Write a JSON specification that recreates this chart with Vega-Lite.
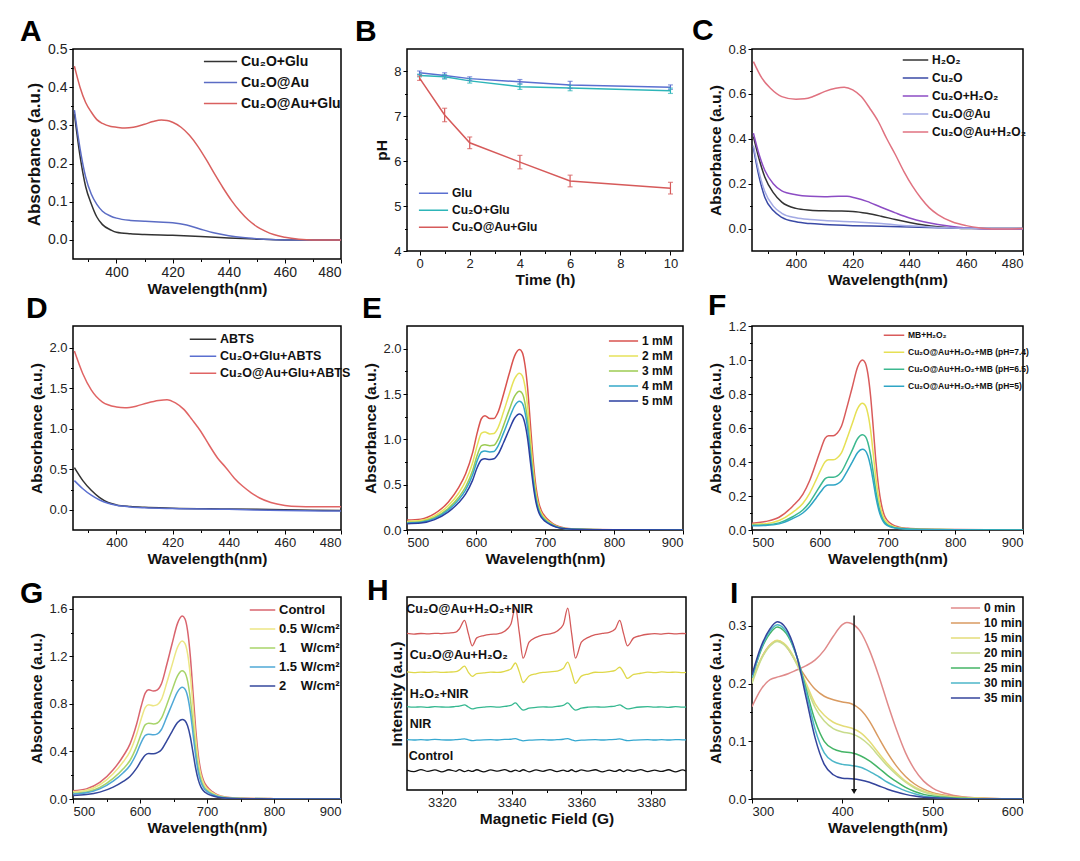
{
"$schema": "https://vega.github.io/schema/vega-lite/v6.json",
"background": "white",
"padding": {"left": 19, "top": 15, "right": 5, "bottom": 5},
"columns": 3,
"bounds": "flush",
"spacing": {"row": 67, "column": 66},
"resolve": {"scale": {"color": "independent"}, "legend": {"color": "independent"}},
"config": {
  "font": "Liberation Sans",
  "view": {"stroke": "#000", "strokeWidth": 1.5},
  "axis": {"grid": false, "domain": false, "tickColor": "#000", "tickSize": 4, "tickWidth": 1, "labelFont": "Liberation Sans", "labelFontSize": 13, "labelColor": "#222", "labelPadding": 2, "titleFont": "Liberation Sans", "titleFontSize": 15.5, "titleFontWeight": "bold", "titleColor": "#111", "titlePadding": 2},
  "axisY": {"titlePadding": 4},
  "legend": {"orient": "none", "symbolType": "stroke", "symbolStrokeWidth": 1.5, "labelFont": "Liberation Sans", "labelFontWeight": "bold", "labelColor": "#111", "padding": 0, "labelOffset": 3, "rowPadding": 0},
  "title": {"anchor": "start", "frame": "group", "fontSize": 30, "fontWeight": "bold", "font": "Liberation Sans", "color": "#000", "offset": -2},
  "line": {"strokeWidth": 1.5}
},
"datasets": {
"A": [
{"k":"Cu₂O+Glu","x":385,"y":0.33},{"k":"Cu₂O+Glu","x":387,"y":0.22},{"k":"Cu₂O+Glu","x":389,"y":0.14},{"k":"Cu₂O+Glu","x":391,"y":0.095},{"k":"Cu₂O+Glu","x":393,"y":0.06},{"k":"Cu₂O+Glu","x":395,"y":0.04},{"k":"Cu₂O+Glu","x":398,"y":0.026},{"k":"Cu₂O+Glu","x":400,"y":0.02},{"k":"Cu₂O+Glu","x":405,"y":0.016},{"k":"Cu₂O+Glu","x":410,"y":0.014},{"k":"Cu₂O+Glu","x":420,"y":0.012},{"k":"Cu₂O+Glu","x":430,"y":0.009},{"k":"Cu₂O+Glu","x":440,"y":0.005},{"k":"Cu₂O+Glu","x":450,"y":0.002},{"k":"Cu₂O+Glu","x":460,"y":0},{"k":"Cu₂O+Glu","x":470,"y":0},{"k":"Cu₂O+Glu","x":480,"y":0},
{"k":"Cu₂O@Au","x":385,"y":0.34},{"k":"Cu₂O@Au","x":387,"y":0.24},{"k":"Cu₂O@Au","x":389,"y":0.165},{"k":"Cu₂O@Au","x":391,"y":0.12},{"k":"Cu₂O@Au","x":393,"y":0.093},{"k":"Cu₂O@Au","x":395,"y":0.075},{"k":"Cu₂O@Au","x":398,"y":0.062},{"k":"Cu₂O@Au","x":400,"y":0.057},{"k":"Cu₂O@Au","x":405,"y":0.051},{"k":"Cu₂O@Au","x":410,"y":0.049},{"k":"Cu₂O@Au","x":415,"y":0.047},{"k":"Cu₂O@Au","x":420,"y":0.045},{"k":"Cu₂O@Au","x":425,"y":0.039},{"k":"Cu₂O@Au","x":430,"y":0.028},{"k":"Cu₂O@Au","x":435,"y":0.018},{"k":"Cu₂O@Au","x":440,"y":0.011},{"k":"Cu₂O@Au","x":445,"y":0.006},{"k":"Cu₂O@Au","x":450,"y":0.003},{"k":"Cu₂O@Au","x":455,"y":0.001},{"k":"Cu₂O@Au","x":460,"y":0},{"k":"Cu₂O@Au","x":470,"y":0},{"k":"Cu₂O@Au","x":480,"y":0},
{"k":"Cu₂O@Au+Glu","x":385,"y":0.455},{"k":"Cu₂O@Au+Glu","x":387,"y":0.40},{"k":"Cu₂O@Au+Glu","x":389,"y":0.36},{"k":"Cu₂O@Au+Glu","x":391,"y":0.335},{"k":"Cu₂O@Au+Glu","x":393,"y":0.315},{"k":"Cu₂O@Au+Glu","x":395,"y":0.305},{"k":"Cu₂O@Au+Glu","x":398,"y":0.297},{"k":"Cu₂O@Au+Glu","x":400,"y":0.295},{"k":"Cu₂O@Au+Glu","x":403,"y":0.293},{"k":"Cu₂O@Au+Glu","x":406,"y":0.295},{"k":"Cu₂O@Au+Glu","x":410,"y":0.303},{"k":"Cu₂O@Au+Glu","x":413,"y":0.31},{"k":"Cu₂O@Au+Glu","x":416,"y":0.314},{"k":"Cu₂O@Au+Glu","x":418,"y":0.313},{"k":"Cu₂O@Au+Glu","x":420,"y":0.308},{"k":"Cu₂O@Au+Glu","x":423,"y":0.295},{"k":"Cu₂O@Au+Glu","x":426,"y":0.274},{"k":"Cu₂O@Au+Glu","x":429,"y":0.245},{"k":"Cu₂O@Au+Glu","x":432,"y":0.21},{"k":"Cu₂O@Au+Glu","x":435,"y":0.172},{"k":"Cu₂O@Au+Glu","x":438,"y":0.136},{"k":"Cu₂O@Au+Glu","x":441,"y":0.103},{"k":"Cu₂O@Au+Glu","x":444,"y":0.075},{"k":"Cu₂O@Au+Glu","x":447,"y":0.052},{"k":"Cu₂O@Au+Glu","x":450,"y":0.035},{"k":"Cu₂O@Au+Glu","x":453,"y":0.023},{"k":"Cu₂O@Au+Glu","x":456,"y":0.014},{"k":"Cu₂O@Au+Glu","x":460,"y":0.007},{"k":"Cu₂O@Au+Glu","x":465,"y":0.002},{"k":"Cu₂O@Au+Glu","x":470,"y":0},{"k":"Cu₂O@Au+Glu","x":480,"y":0}
],
"B": [
{"k":"Glu","t":0,"ph":7.97,"lo":7.93,"hi":8.01},{"k":"Glu","t":1,"ph":7.91,"lo":7.85,"hi":7.97},{"k":"Glu","t":2,"ph":7.84,"lo":7.8,"hi":7.88},{"k":"Glu","t":4,"ph":7.77,"lo":7.72,"hi":7.82},{"k":"Glu","t":6,"ph":7.7,"lo":7.62,"hi":7.78},{"k":"Glu","t":10,"ph":7.65,"lo":7.6,"hi":7.7},
{"k":"Cu₂O+Glu","t":0,"ph":7.91,"lo":7.88,"hi":7.94},{"k":"Cu₂O+Glu","t":1,"ph":7.88,"lo":7.83,"hi":7.93},{"k":"Cu₂O+Glu","t":2,"ph":7.79,"lo":7.74,"hi":7.84},{"k":"Cu₂O+Glu","t":4,"ph":7.66,"lo":7.6,"hi":7.72},{"k":"Cu₂O+Glu","t":6,"ph":7.63,"lo":7.57,"hi":7.69},{"k":"Cu₂O+Glu","t":10,"ph":7.57,"lo":7.51,"hi":7.63},
{"k":"Cu₂O@Au+Glu","t":0,"ph":7.85,"lo":7.8,"hi":7.9},{"k":"Cu₂O@Au+Glu","t":1,"ph":7.03,"lo":6.88,"hi":7.18},{"k":"Cu₂O@Au+Glu","t":2,"ph":6.41,"lo":6.28,"hi":6.54},{"k":"Cu₂O@Au+Glu","t":4,"ph":5.98,"lo":5.83,"hi":6.13},{"k":"Cu₂O@Au+Glu","t":6,"ph":5.56,"lo":5.43,"hi":5.69},{"k":"Cu₂O@Au+Glu","t":10,"ph":5.4,"lo":5.27,"hi":5.53}
],
"C": [
{"k":"H₂O₂","x":385,"y":0.41},{"k":"H₂O₂","x":387,"y":0.31},{"k":"H₂O₂","x":389,"y":0.23},{"k":"H₂O₂","x":392,"y":0.16},{"k":"H₂O₂","x":395,"y":0.118},{"k":"H₂O₂","x":400,"y":0.09},{"k":"H₂O₂","x":405,"y":0.082},{"k":"H₂O₂","x":410,"y":0.079},{"k":"H₂O₂","x":415,"y":0.078},{"k":"H₂O₂","x":420,"y":0.076},{"k":"H₂O₂","x":425,"y":0.068},{"k":"H₂O₂","x":430,"y":0.055},{"k":"H₂O₂","x":435,"y":0.04},{"k":"H₂O₂","x":440,"y":0.027},{"k":"H₂O₂","x":445,"y":0.016},{"k":"H₂O₂","x":450,"y":0.008},{"k":"H₂O₂","x":455,"y":0.003},{"k":"H₂O₂","x":460,"y":0},{"k":"H₂O₂","x":470,"y":0},{"k":"H₂O₂","x":480,"y":0},
{"k":"Cu₂O","x":385,"y":0.36},{"k":"Cu₂O","x":387,"y":0.23},{"k":"Cu₂O","x":389,"y":0.14},{"k":"Cu₂O","x":392,"y":0.08},{"k":"Cu₂O","x":395,"y":0.05},{"k":"Cu₂O","x":400,"y":0.03},{"k":"Cu₂O","x":405,"y":0.022},{"k":"Cu₂O","x":410,"y":0.018},{"k":"Cu₂O","x":420,"y":0.013},{"k":"Cu₂O","x":430,"y":0.01},{"k":"Cu₂O","x":440,"y":0.007},{"k":"Cu₂O","x":450,"y":0.004},{"k":"Cu₂O","x":460,"y":0.002},{"k":"Cu₂O","x":470,"y":0},{"k":"Cu₂O","x":480,"y":0},
{"k":"Cu₂O+H₂O₂","x":385,"y":0.425},{"k":"Cu₂O+H₂O₂","x":387,"y":0.33},{"k":"Cu₂O+H₂O₂","x":389,"y":0.26},{"k":"Cu₂O+H₂O₂","x":392,"y":0.2},{"k":"Cu₂O+H₂O₂","x":395,"y":0.168},{"k":"Cu₂O+H₂O₂","x":400,"y":0.151},{"k":"Cu₂O+H₂O₂","x":405,"y":0.144},{"k":"Cu₂O+H₂O₂","x":410,"y":0.142},{"k":"Cu₂O+H₂O₂","x":415,"y":0.144},{"k":"Cu₂O+H₂O₂","x":418,"y":0.144},{"k":"Cu₂O+H₂O₂","x":421,"y":0.136},{"k":"Cu₂O+H₂O₂","x":425,"y":0.121},{"k":"Cu₂O+H₂O₂","x":430,"y":0.095},{"k":"Cu₂O+H₂O₂","x":435,"y":0.07},{"k":"Cu₂O+H₂O₂","x":440,"y":0.047},{"k":"Cu₂O+H₂O₂","x":445,"y":0.03},{"k":"Cu₂O+H₂O₂","x":450,"y":0.018},{"k":"Cu₂O+H₂O₂","x":455,"y":0.009},{"k":"Cu₂O+H₂O₂","x":460,"y":0.003},{"k":"Cu₂O+H₂O₂","x":470,"y":-0.002},{"k":"Cu₂O+H₂O₂","x":480,"y":-0.002},
{"k":"Cu₂O@Au","x":385,"y":0.37},{"k":"Cu₂O@Au","x":387,"y":0.25},{"k":"Cu₂O@Au","x":389,"y":0.165},{"k":"Cu₂O@Au","x":392,"y":0.1},{"k":"Cu₂O@Au","x":395,"y":0.068},{"k":"Cu₂O@Au","x":400,"y":0.048},{"k":"Cu₂O@Au","x":405,"y":0.04},{"k":"Cu₂O@Au","x":410,"y":0.036},{"k":"Cu₂O@Au","x":420,"y":0.03},{"k":"Cu₂O@Au","x":430,"y":0.022},{"k":"Cu₂O@Au","x":440,"y":0.012},{"k":"Cu₂O@Au","x":450,"y":0.005},{"k":"Cu₂O@Au","x":460,"y":0.001},{"k":"Cu₂O@Au","x":470,"y":0},{"k":"Cu₂O@Au","x":480,"y":0},
{"k":"Cu₂O@Au+H₂O₂","x":385,"y":0.744},{"k":"Cu₂O@Au+H₂O₂","x":388,"y":0.67},{"k":"Cu₂O@Au+H₂O₂","x":391,"y":0.625},{"k":"Cu₂O@Au+H₂O₂","x":395,"y":0.588},{"k":"Cu₂O@Au+H₂O₂","x":400,"y":0.576},{"k":"Cu₂O@Au+H₂O₂","x":403,"y":0.578},{"k":"Cu₂O@Au+H₂O₂","x":406,"y":0.588},{"k":"Cu₂O@Au+H₂O₂","x":410,"y":0.61},{"k":"Cu₂O@Au+H₂O₂","x":414,"y":0.625},{"k":"Cu₂O@Au+H₂O₂","x":417,"y":0.63},{"k":"Cu₂O@Au+H₂O₂","x":420,"y":0.618},{"k":"Cu₂O@Au+H₂O₂","x":423,"y":0.588},{"k":"Cu₂O@Au+H₂O₂","x":426,"y":0.536},{"k":"Cu₂O@Au+H₂O₂","x":429,"y":0.477},{"k":"Cu₂O@Au+H₂O₂","x":432,"y":0.4},{"k":"Cu₂O@Au+H₂O₂","x":435,"y":0.33},{"k":"Cu₂O@Au+H₂O₂","x":438,"y":0.255},{"k":"Cu₂O@Au+H₂O₂","x":441,"y":0.19},{"k":"Cu₂O@Au+H₂O₂","x":444,"y":0.136},{"k":"Cu₂O@Au+H₂O₂","x":447,"y":0.092},{"k":"Cu₂O@Au+H₂O₂","x":450,"y":0.062},{"k":"Cu₂O@Au+H₂O₂","x":455,"y":0.03},{"k":"Cu₂O@Au+H₂O₂","x":460,"y":0.013},{"k":"Cu₂O@Au+H₂O₂","x":465,"y":0.003},{"k":"Cu₂O@Au+H₂O₂","x":470,"y":-0.002},{"k":"Cu₂O@Au+H₂O₂","x":480,"y":0}
],
"D": [
{"k":"ABTS","x":385,"y":0.52},{"k":"ABTS","x":388,"y":0.36},{"k":"ABTS","x":391,"y":0.24},{"k":"ABTS","x":394,"y":0.15},{"k":"ABTS","x":397,"y":0.09},{"k":"ABTS","x":400,"y":0.06},{"k":"ABTS","x":405,"y":0.04},{"k":"ABTS","x":410,"y":0.03},{"k":"ABTS","x":420,"y":0.02},{"k":"ABTS","x":440,"y":0.01},{"k":"ABTS","x":460,"y":0},{"k":"ABTS","x":480,"y":-0.01},
{"k":"Cu₂O+Glu+ABTS","x":385,"y":0.36},{"k":"Cu₂O+Glu+ABTS","x":388,"y":0.26},{"k":"Cu₂O+Glu+ABTS","x":391,"y":0.18},{"k":"Cu₂O+Glu+ABTS","x":394,"y":0.12},{"k":"Cu₂O+Glu+ABTS","x":397,"y":0.08},{"k":"Cu₂O+Glu+ABTS","x":400,"y":0.055},{"k":"Cu₂O+Glu+ABTS","x":405,"y":0.035},{"k":"Cu₂O+Glu+ABTS","x":410,"y":0.025},{"k":"Cu₂O+Glu+ABTS","x":420,"y":0.015},{"k":"Cu₂O+Glu+ABTS","x":440,"y":0.005},{"k":"Cu₂O+Glu+ABTS","x":460,"y":-0.01},{"k":"Cu₂O+Glu+ABTS","x":480,"y":-0.015},
{"k":"Cu₂O@Au+Glu+ABTS","x":385,"y":1.96},{"k":"Cu₂O@Au+Glu+ABTS","x":388,"y":1.68},{"k":"Cu₂O@Au+Glu+ABTS","x":391,"y":1.48},{"k":"Cu₂O@Au+Glu+ABTS","x":395,"y":1.33},{"k":"Cu₂O@Au+Glu+ABTS","x":400,"y":1.27},{"k":"Cu₂O@Au+Glu+ABTS","x":403,"y":1.26},{"k":"Cu₂O@Au+Glu+ABTS","x":407,"y":1.28},{"k":"Cu₂O@Au+Glu+ABTS","x":411,"y":1.32},{"k":"Cu₂O@Au+Glu+ABTS","x":415,"y":1.35},{"k":"Cu₂O@Au+Glu+ABTS","x":418,"y":1.36},{"k":"Cu₂O@Au+Glu+ABTS","x":421,"y":1.32},{"k":"Cu₂O@Au+Glu+ABTS","x":424,"y":1.24},{"k":"Cu₂O@Au+Glu+ABTS","x":427,"y":1.11},{"k":"Cu₂O@Au+Glu+ABTS","x":430,"y":0.97},{"k":"Cu₂O@Au+Glu+ABTS","x":433,"y":0.8},{"k":"Cu₂O@Au+Glu+ABTS","x":436,"y":0.64},{"k":"Cu₂O@Au+Glu+ABTS","x":439,"y":0.52},{"k":"Cu₂O@Au+Glu+ABTS","x":442,"y":0.39},{"k":"Cu₂O@Au+Glu+ABTS","x":445,"y":0.29},{"k":"Cu₂O@Au+Glu+ABTS","x":448,"y":0.21},{"k":"Cu₂O@Au+Glu+ABTS","x":451,"y":0.145},{"k":"Cu₂O@Au+Glu+ABTS","x":455,"y":0.09},{"k":"Cu₂O@Au+Glu+ABTS","x":460,"y":0.054},{"k":"Cu₂O@Au+Glu+ABTS","x":465,"y":0.04},{"k":"Cu₂O@Au+Glu+ABTS","x":470,"y":0.037},{"k":"Cu₂O@Au+Glu+ABTS","x":480,"y":0.037}
],
"E": [
{"k":"1 mM","x":500,"y":0.11},{"k":"1 mM","x":520,"y":0.12},{"k":"1 mM","x":540,"y":0.18},{"k":"1 mM","x":560,"y":0.31},{"k":"1 mM","x":575,"y":0.47},{"k":"1 mM","x":585,"y":0.62},{"k":"1 mM","x":595,"y":0.85},{"k":"1 mM","x":602,"y":1.08},{"k":"1 mM","x":608,"y":1.23},{"k":"1 mM","x":613,"y":1.26},{"k":"1 mM","x":620,"y":1.23},{"k":"1 mM","x":626,"y":1.23},{"k":"1 mM","x":632,"y":1.3},{"k":"1 mM","x":640,"y":1.5},{"k":"1 mM","x":648,"y":1.72},{"k":"1 mM","x":656,"y":1.92},{"k":"1 mM","x":663,"y":1.99},{"k":"1 mM","x":667,"y":1.96},{"k":"1 mM","x":671,"y":1.82},{"k":"1 mM","x":675,"y":1.55},{"k":"1 mM","x":679,"y":1.15},{"k":"1 mM","x":683,"y":0.76},{"k":"1 mM","x":687,"y":0.47},{"k":"1 mM","x":691,"y":0.3},{"k":"1 mM","x":695,"y":0.21},{"k":"1 mM","x":700,"y":0.15},{"k":"1 mM","x":708,"y":0.09},{"k":"1 mM","x":716,"y":0.05},{"k":"1 mM","x":730,"y":0.02},{"k":"1 mM","x":750,"y":0.01},{"k":"1 mM","x":800,"y":0.003},{"k":"1 mM","x":900,"y":0},
{"k":"2 mM","x":500,"y":0.095},{"k":"2 mM","x":520,"y":0.104},{"k":"2 mM","x":540,"y":0.156},{"k":"2 mM","x":560,"y":0.27},{"k":"2 mM","x":575,"y":0.408},{"k":"2 mM","x":585,"y":0.54},{"k":"2 mM","x":595,"y":0.739},{"k":"2 mM","x":602,"y":0.939},{"k":"2 mM","x":608,"y":1.069},{"k":"2 mM","x":613,"y":1.08},{"k":"2 mM","x":620,"y":1.06},{"k":"2 mM","x":626,"y":1.065},{"k":"2 mM","x":632,"y":1.13},{"k":"2 mM","x":640,"y":1.304},{"k":"2 mM","x":648,"y":1.495},{"k":"2 mM","x":656,"y":1.669},{"k":"2 mM","x":663,"y":1.73},{"k":"2 mM","x":667,"y":1.704},{"k":"2 mM","x":671,"y":1.583},{"k":"2 mM","x":675,"y":1.348},{"k":"2 mM","x":679,"y":1.0},{"k":"2 mM","x":683,"y":0.661},{"k":"2 mM","x":687,"y":0.408},{"k":"2 mM","x":691,"y":0.261},{"k":"2 mM","x":695,"y":0.183},{"k":"2 mM","x":700,"y":0.13},{"k":"2 mM","x":708,"y":0.078},{"k":"2 mM","x":716,"y":0.043},{"k":"2 mM","x":730,"y":0.017},{"k":"2 mM","x":750,"y":0.009},{"k":"2 mM","x":800,"y":0.003},{"k":"2 mM","x":900,"y":0},
{"k":"3 mM","x":500,"y":0.084},{"k":"3 mM","x":520,"y":0.092},{"k":"3 mM","x":540,"y":0.138},{"k":"3 mM","x":560,"y":0.239},{"k":"3 mM","x":575,"y":0.361},{"k":"3 mM","x":585,"y":0.477},{"k":"3 mM","x":595,"y":0.653},{"k":"3 mM","x":602,"y":0.831},{"k":"3 mM","x":608,"y":0.93},{"k":"3 mM","x":613,"y":0.94},{"k":"3 mM","x":620,"y":0.93},{"k":"3 mM","x":626,"y":0.935},{"k":"3 mM","x":632,"y":0.999},{"k":"3 mM","x":640,"y":1.154},{"k":"3 mM","x":648,"y":1.322},{"k":"3 mM","x":656,"y":1.476},{"k":"3 mM","x":663,"y":1.53},{"k":"3 mM","x":667,"y":1.507},{"k":"3 mM","x":671,"y":1.4},{"k":"3 mM","x":675,"y":1.192},{"k":"3 mM","x":679,"y":0.884},{"k":"3 mM","x":683,"y":0.584},{"k":"3 mM","x":687,"y":0.361},{"k":"3 mM","x":691,"y":0.231},{"k":"3 mM","x":695,"y":0.162},{"k":"3 mM","x":700,"y":0.115},{"k":"3 mM","x":708,"y":0.069},{"k":"3 mM","x":716,"y":0.038},{"k":"3 mM","x":730,"y":0.015},{"k":"3 mM","x":750,"y":0.008},{"k":"3 mM","x":800,"y":0.002},{"k":"3 mM","x":900,"y":0},
{"k":"4 mM","x":500,"y":0.078},{"k":"4 mM","x":520,"y":0.085},{"k":"4 mM","x":540,"y":0.128},{"k":"4 mM","x":560,"y":0.222},{"k":"4 mM","x":575,"y":0.335},{"k":"4 mM","x":585,"y":0.443},{"k":"4 mM","x":595,"y":0.606},{"k":"4 mM","x":602,"y":0.771},{"k":"4 mM","x":608,"y":0.86},{"k":"4 mM","x":613,"y":0.87},{"k":"4 mM","x":620,"y":0.86},{"k":"4 mM","x":626,"y":0.865},{"k":"4 mM","x":632,"y":0.927},{"k":"4 mM","x":640,"y":1.071},{"k":"4 mM","x":648,"y":1.227},{"k":"4 mM","x":656,"y":1.37},{"k":"4 mM","x":663,"y":1.42},{"k":"4 mM","x":667,"y":1.399},{"k":"4 mM","x":671,"y":1.299},{"k":"4 mM","x":675,"y":1.106},{"k":"4 mM","x":679,"y":0.821},{"k":"4 mM","x":683,"y":0.542},{"k":"4 mM","x":687,"y":0.335},{"k":"4 mM","x":691,"y":0.214},{"k":"4 mM","x":695,"y":0.151},{"k":"4 mM","x":700,"y":0.107},{"k":"4 mM","x":708,"y":0.064},{"k":"4 mM","x":716,"y":0.036},{"k":"4 mM","x":730,"y":0.014},{"k":"4 mM","x":750,"y":0.007},{"k":"4 mM","x":800,"y":0.002},{"k":"4 mM","x":900,"y":0},
{"k":"5 mM","x":500,"y":0.07},{"k":"5 mM","x":520,"y":0.077},{"k":"5 mM","x":540,"y":0.115},{"k":"5 mM","x":560,"y":0.2},{"k":"5 mM","x":575,"y":0.302},{"k":"5 mM","x":585,"y":0.399},{"k":"5 mM","x":595,"y":0.547},{"k":"5 mM","x":602,"y":0.695},{"k":"5 mM","x":608,"y":0.775},{"k":"5 mM","x":613,"y":0.785},{"k":"5 mM","x":620,"y":0.778},{"k":"5 mM","x":626,"y":0.785},{"k":"5 mM","x":632,"y":0.836},{"k":"5 mM","x":640,"y":0.965},{"k":"5 mM","x":648,"y":1.106},{"k":"5 mM","x":656,"y":1.235},{"k":"5 mM","x":663,"y":1.28},{"k":"5 mM","x":667,"y":1.261},{"k":"5 mM","x":671,"y":1.171},{"k":"5 mM","x":675,"y":0.997},{"k":"5 mM","x":679,"y":0.74},{"k":"5 mM","x":683,"y":0.489},{"k":"5 mM","x":687,"y":0.302},{"k":"5 mM","x":691,"y":0.193},{"k":"5 mM","x":695,"y":0.136},{"k":"5 mM","x":700,"y":0.096},{"k":"5 mM","x":708,"y":0.058},{"k":"5 mM","x":716,"y":0.032},{"k":"5 mM","x":730,"y":0.013},{"k":"5 mM","x":750,"y":0.006},{"k":"5 mM","x":800,"y":0.002},{"k":"5 mM","x":900,"y":0}
],
"F": [
{"k":"MB+H₂O₂","x":500,"y":0.04},{"k":"MB+H₂O₂","x":520,"y":0.05},{"k":"MB+H₂O₂","x":540,"y":0.075},{"k":"MB+H₂O₂","x":560,"y":0.14},{"k":"MB+H₂O₂","x":575,"y":0.21},{"k":"MB+H₂O₂","x":585,"y":0.29},{"k":"MB+H₂O₂","x":595,"y":0.4},{"k":"MB+H₂O₂","x":602,"y":0.48},{"k":"MB+H₂O₂","x":608,"y":0.54},{"k":"MB+H₂O₂","x":613,"y":0.555},{"k":"MB+H₂O₂","x":620,"y":0.555},{"k":"MB+H₂O₂","x":626,"y":0.57},{"k":"MB+H₂O₂","x":632,"y":0.61},{"k":"MB+H₂O₂","x":640,"y":0.72},{"k":"MB+H₂O₂","x":648,"y":0.84},{"k":"MB+H₂O₂","x":656,"y":0.96},{"k":"MB+H₂O₂","x":663,"y":1.0},{"k":"MB+H₂O₂","x":667,"y":0.985},{"k":"MB+H₂O₂","x":671,"y":0.92},{"k":"MB+H₂O₂","x":675,"y":0.79},{"k":"MB+H₂O₂","x":679,"y":0.6},{"k":"MB+H₂O₂","x":683,"y":0.4},{"k":"MB+H₂O₂","x":687,"y":0.25},{"k":"MB+H₂O₂","x":691,"y":0.15},{"k":"MB+H₂O₂","x":695,"y":0.09},{"k":"MB+H₂O₂","x":700,"y":0.055},{"k":"MB+H₂O₂","x":708,"y":0.03},{"k":"MB+H₂O₂","x":716,"y":0.018},{"k":"MB+H₂O₂","x":730,"y":0.01},{"k":"MB+H₂O₂","x":750,"y":0.006},{"k":"MB+H₂O₂","x":800,"y":0.003},{"k":"MB+H₂O₂","x":900,"y":0},
{"k":"Cu₂O@Au+H₂O₂+MB (pH=7.4)","x":500,"y":0.033},{"k":"Cu₂O@Au+H₂O₂+MB (pH=7.4)","x":520,"y":0.037},{"k":"Cu₂O@Au+H₂O₂+MB (pH=7.4)","x":540,"y":0.056},{"k":"Cu₂O@Au+H₂O₂+MB (pH=7.4)","x":560,"y":0.104},{"k":"Cu₂O@Au+H₂O₂+MB (pH=7.4)","x":575,"y":0.156},{"k":"Cu₂O@Au+H₂O₂+MB (pH=7.4)","x":585,"y":0.216},{"k":"Cu₂O@Au+H₂O₂+MB (pH=7.4)","x":595,"y":0.298},{"k":"Cu₂O@Au+H₂O₂+MB (pH=7.4)","x":602,"y":0.358},{"k":"Cu₂O@Au+H₂O₂+MB (pH=7.4)","x":608,"y":0.402},{"k":"Cu₂O@Au+H₂O₂+MB (pH=7.4)","x":613,"y":0.413},{"k":"Cu₂O@Au+H₂O₂+MB (pH=7.4)","x":620,"y":0.413},{"k":"Cu₂O@Au+H₂O₂+MB (pH=7.4)","x":626,"y":0.425},{"k":"Cu₂O@Au+H₂O₂+MB (pH=7.4)","x":632,"y":0.454},{"k":"Cu₂O@Au+H₂O₂+MB (pH=7.4)","x":640,"y":0.536},{"k":"Cu₂O@Au+H₂O₂+MB (pH=7.4)","x":648,"y":0.626},{"k":"Cu₂O@Au+H₂O₂+MB (pH=7.4)","x":656,"y":0.715},{"k":"Cu₂O@Au+H₂O₂+MB (pH=7.4)","x":663,"y":0.745},{"k":"Cu₂O@Au+H₂O₂+MB (pH=7.4)","x":667,"y":0.734},{"k":"Cu₂O@Au+H₂O₂+MB (pH=7.4)","x":671,"y":0.685},{"k":"Cu₂O@Au+H₂O₂+MB (pH=7.4)","x":675,"y":0.589},{"k":"Cu₂O@Au+H₂O₂+MB (pH=7.4)","x":679,"y":0.447},{"k":"Cu₂O@Au+H₂O₂+MB (pH=7.4)","x":683,"y":0.298},{"k":"Cu₂O@Au+H₂O₂+MB (pH=7.4)","x":687,"y":0.186},{"k":"Cu₂O@Au+H₂O₂+MB (pH=7.4)","x":691,"y":0.112},{"k":"Cu₂O@Au+H₂O₂+MB (pH=7.4)","x":695,"y":0.067},{"k":"Cu₂O@Au+H₂O₂+MB (pH=7.4)","x":700,"y":0.041},{"k":"Cu₂O@Au+H₂O₂+MB (pH=7.4)","x":708,"y":0.022},{"k":"Cu₂O@Au+H₂O₂+MB (pH=7.4)","x":716,"y":0.013},{"k":"Cu₂O@Au+H₂O₂+MB (pH=7.4)","x":730,"y":0.007},{"k":"Cu₂O@Au+H₂O₂+MB (pH=7.4)","x":750,"y":0.004},{"k":"Cu₂O@Au+H₂O₂+MB (pH=7.4)","x":800,"y":0.002},{"k":"Cu₂O@Au+H₂O₂+MB (pH=7.4)","x":900,"y":0},
{"k":"Cu₂O@Au+H₂O₂+MB (pH=6.5)","x":500,"y":0.028},{"k":"Cu₂O@Au+H₂O₂+MB (pH=6.5)","x":520,"y":0.03},{"k":"Cu₂O@Au+H₂O₂+MB (pH=6.5)","x":540,"y":0.042},{"k":"Cu₂O@Au+H₂O₂+MB (pH=6.5)","x":560,"y":0.078},{"k":"Cu₂O@Au+H₂O₂+MB (pH=6.5)","x":575,"y":0.118},{"k":"Cu₂O@Au+H₂O₂+MB (pH=6.5)","x":585,"y":0.162},{"k":"Cu₂O@Au+H₂O₂+MB (pH=6.5)","x":595,"y":0.224},{"k":"Cu₂O@Au+H₂O₂+MB (pH=6.5)","x":602,"y":0.269},{"k":"Cu₂O@Au+H₂O₂+MB (pH=6.5)","x":608,"y":0.302},{"k":"Cu₂O@Au+H₂O₂+MB (pH=6.5)","x":613,"y":0.311},{"k":"Cu₂O@Au+H₂O₂+MB (pH=6.5)","x":620,"y":0.311},{"k":"Cu₂O@Au+H₂O₂+MB (pH=6.5)","x":626,"y":0.319},{"k":"Cu₂O@Au+H₂O₂+MB (pH=6.5)","x":632,"y":0.342},{"k":"Cu₂O@Au+H₂O₂+MB (pH=6.5)","x":640,"y":0.403},{"k":"Cu₂O@Au+H₂O₂+MB (pH=6.5)","x":648,"y":0.47},{"k":"Cu₂O@Au+H₂O₂+MB (pH=6.5)","x":656,"y":0.538},{"k":"Cu₂O@Au+H₂O₂+MB (pH=6.5)","x":663,"y":0.56},{"k":"Cu₂O@Au+H₂O₂+MB (pH=6.5)","x":667,"y":0.552},{"k":"Cu₂O@Au+H₂O₂+MB (pH=6.5)","x":671,"y":0.515},{"k":"Cu₂O@Au+H₂O₂+MB (pH=6.5)","x":675,"y":0.442},{"k":"Cu₂O@Au+H₂O₂+MB (pH=6.5)","x":679,"y":0.336},{"k":"Cu₂O@Au+H₂O₂+MB (pH=6.5)","x":683,"y":0.224},{"k":"Cu₂O@Au+H₂O₂+MB (pH=6.5)","x":687,"y":0.14},{"k":"Cu₂O@Au+H₂O₂+MB (pH=6.5)","x":691,"y":0.084},{"k":"Cu₂O@Au+H₂O₂+MB (pH=6.5)","x":695,"y":0.05},{"k":"Cu₂O@Au+H₂O₂+MB (pH=6.5)","x":700,"y":0.031},{"k":"Cu₂O@Au+H₂O₂+MB (pH=6.5)","x":708,"y":0.017},{"k":"Cu₂O@Au+H₂O₂+MB (pH=6.5)","x":716,"y":0.01},{"k":"Cu₂O@Au+H₂O₂+MB (pH=6.5)","x":730,"y":0.006},{"k":"Cu₂O@Au+H₂O₂+MB (pH=6.5)","x":750,"y":0.003},{"k":"Cu₂O@Au+H₂O₂+MB (pH=6.5)","x":800,"y":0.002},{"k":"Cu₂O@Au+H₂O₂+MB (pH=6.5)","x":900,"y":0},
{"k":"Cu₂O@Au+H₂O₂+MB (pH=5)","x":500,"y":0.025},{"k":"Cu₂O@Au+H₂O₂+MB (pH=5)","x":520,"y":0.027},{"k":"Cu₂O@Au+H₂O₂+MB (pH=5)","x":540,"y":0.036},{"k":"Cu₂O@Au+H₂O₂+MB (pH=5)","x":560,"y":0.067},{"k":"Cu₂O@Au+H₂O₂+MB (pH=5)","x":575,"y":0.1},{"k":"Cu₂O@Au+H₂O₂+MB (pH=5)","x":585,"y":0.138},{"k":"Cu₂O@Au+H₂O₂+MB (pH=5)","x":595,"y":0.19},{"k":"Cu₂O@Au+H₂O₂+MB (pH=5)","x":602,"y":0.228},{"k":"Cu₂O@Au+H₂O₂+MB (pH=5)","x":608,"y":0.257},{"k":"Cu₂O@Au+H₂O₂+MB (pH=5)","x":613,"y":0.264},{"k":"Cu₂O@Au+H₂O₂+MB (pH=5)","x":620,"y":0.264},{"k":"Cu₂O@Au+H₂O₂+MB (pH=5)","x":626,"y":0.271},{"k":"Cu₂O@Au+H₂O₂+MB (pH=5)","x":632,"y":0.29},{"k":"Cu₂O@Au+H₂O₂+MB (pH=5)","x":640,"y":0.342},{"k":"Cu₂O@Au+H₂O₂+MB (pH=5)","x":648,"y":0.399},{"k":"Cu₂O@Au+H₂O₂+MB (pH=5)","x":656,"y":0.456},{"k":"Cu₂O@Au+H₂O₂+MB (pH=5)","x":663,"y":0.475},{"k":"Cu₂O@Au+H₂O₂+MB (pH=5)","x":667,"y":0.468},{"k":"Cu₂O@Au+H₂O₂+MB (pH=5)","x":671,"y":0.437},{"k":"Cu₂O@Au+H₂O₂+MB (pH=5)","x":675,"y":0.375},{"k":"Cu₂O@Au+H₂O₂+MB (pH=5)","x":679,"y":0.285},{"k":"Cu₂O@Au+H₂O₂+MB (pH=5)","x":683,"y":0.19},{"k":"Cu₂O@Au+H₂O₂+MB (pH=5)","x":687,"y":0.119},{"k":"Cu₂O@Au+H₂O₂+MB (pH=5)","x":691,"y":0.071},{"k":"Cu₂O@Au+H₂O₂+MB (pH=5)","x":695,"y":0.043},{"k":"Cu₂O@Au+H₂O₂+MB (pH=5)","x":700,"y":0.026},{"k":"Cu₂O@Au+H₂O₂+MB (pH=5)","x":708,"y":0.014},{"k":"Cu₂O@Au+H₂O₂+MB (pH=5)","x":716,"y":0.009},{"k":"Cu₂O@Au+H₂O₂+MB (pH=5)","x":730,"y":0.005},{"k":"Cu₂O@Au+H₂O₂+MB (pH=5)","x":750,"y":0.003},{"k":"Cu₂O@Au+H₂O₂+MB (pH=5)","x":800,"y":0.001},{"k":"Cu₂O@Au+H₂O₂+MB (pH=5)","x":900,"y":0}
],
"G": [
{"k":"Control","x":500,"y":0.069},{"k":"Control","x":520,"y":0.085},{"k":"Control","x":540,"y":0.139},{"k":"Control","x":560,"y":0.246},{"k":"Control","x":575,"y":0.362},{"k":"Control","x":585,"y":0.462},{"k":"Control","x":595,"y":0.631},{"k":"Control","x":602,"y":0.785},{"k":"Control","x":608,"y":0.893},{"k":"Control","x":613,"y":0.919},{"k":"Control","x":620,"y":0.909},{"k":"Control","x":626,"y":0.919},{"k":"Control","x":632,"y":0.97},{"k":"Control","x":640,"y":1.132},{"k":"Control","x":648,"y":1.309},{"k":"Control","x":656,"y":1.478},{"k":"Control","x":663,"y":1.54},{"k":"Control","x":667,"y":1.517},{"k":"Control","x":671,"y":1.417},{"k":"Control","x":675,"y":1.209},{"k":"Control","x":679,"y":0.909},{"k":"Control","x":683,"y":0.601},{"k":"Control","x":687,"y":0.37},{"k":"Control","x":691,"y":0.231},{"k":"Control","x":695,"y":0.154},{"k":"Control","x":700,"y":0.105},{"k":"Control","x":708,"y":0.062},{"k":"Control","x":716,"y":0.034},{"k":"Control","x":730,"y":0.015},{"k":"Control","x":750,"y":0.008},{"k":"Control","x":800,"y":0.003},{"k":"Control","x":900,"y":0},
{"k":"0.5 W/cm²","x":500,"y":0.06},{"k":"0.5 W/cm²","x":520,"y":0.073},{"k":"0.5 W/cm²","x":540,"y":0.12},{"k":"0.5 W/cm²","x":560,"y":0.213},{"k":"0.5 W/cm²","x":575,"y":0.313},{"k":"0.5 W/cm²","x":585,"y":0.399},{"k":"0.5 W/cm²","x":595,"y":0.545},{"k":"0.5 W/cm²","x":602,"y":0.678},{"k":"0.5 W/cm²","x":608,"y":0.771},{"k":"0.5 W/cm²","x":613,"y":0.794},{"k":"0.5 W/cm²","x":620,"y":0.785},{"k":"0.5 W/cm²","x":626,"y":0.794},{"k":"0.5 W/cm²","x":632,"y":0.838},{"k":"0.5 W/cm²","x":640,"y":0.978},{"k":"0.5 W/cm²","x":648,"y":1.131},{"k":"0.5 W/cm²","x":656,"y":1.277},{"k":"0.5 W/cm²","x":663,"y":1.33},{"k":"0.5 W/cm²","x":667,"y":1.31},{"k":"0.5 W/cm²","x":671,"y":1.224},{"k":"0.5 W/cm²","x":675,"y":1.044},{"k":"0.5 W/cm²","x":679,"y":0.785},{"k":"0.5 W/cm²","x":683,"y":0.519},{"k":"0.5 W/cm²","x":687,"y":0.319},{"k":"0.5 W/cm²","x":691,"y":0.2},{"k":"0.5 W/cm²","x":695,"y":0.133},{"k":"0.5 W/cm²","x":700,"y":0.09},{"k":"0.5 W/cm²","x":708,"y":0.053},{"k":"0.5 W/cm²","x":716,"y":0.029},{"k":"0.5 W/cm²","x":730,"y":0.013},{"k":"0.5 W/cm²","x":750,"y":0.007},{"k":"0.5 W/cm²","x":800,"y":0.003},{"k":"0.5 W/cm²","x":900,"y":0},
{"k":"1    W/cm²","x":500,"y":0.049},{"k":"1    W/cm²","x":520,"y":0.059},{"k":"1    W/cm²","x":540,"y":0.097},{"k":"1    W/cm²","x":560,"y":0.173},{"k":"1    W/cm²","x":575,"y":0.254},{"k":"1    W/cm²","x":585,"y":0.324},{"k":"1    W/cm²","x":595,"y":0.443},{"k":"1    W/cm²","x":602,"y":0.551},{"k":"1    W/cm²","x":608,"y":0.626},{"k":"1    W/cm²","x":613,"y":0.638},{"k":"1    W/cm²","x":620,"y":0.632},{"k":"1    W/cm²","x":626,"y":0.64},{"k":"1    W/cm²","x":632,"y":0.68},{"k":"1    W/cm²","x":640,"y":0.794},{"k":"1    W/cm²","x":648,"y":0.918},{"k":"1    W/cm²","x":656,"y":1.037},{"k":"1    W/cm²","x":663,"y":1.08},{"k":"1    W/cm²","x":667,"y":1.064},{"k":"1    W/cm²","x":671,"y":0.994},{"k":"1    W/cm²","x":675,"y":0.848},{"k":"1    W/cm²","x":679,"y":0.637},{"k":"1    W/cm²","x":683,"y":0.421},{"k":"1    W/cm²","x":687,"y":0.259},{"k":"1    W/cm²","x":691,"y":0.162},{"k":"1    W/cm²","x":695,"y":0.108},{"k":"1    W/cm²","x":700,"y":0.073},{"k":"1    W/cm²","x":708,"y":0.043},{"k":"1    W/cm²","x":716,"y":0.024},{"k":"1    W/cm²","x":730,"y":0.011},{"k":"1    W/cm²","x":750,"y":0.005},{"k":"1    W/cm²","x":800,"y":0.002},{"k":"1    W/cm²","x":900,"y":0},
{"k":"1.5 W/cm²","x":500,"y":0.042},{"k":"1.5 W/cm²","x":520,"y":0.052},{"k":"1.5 W/cm²","x":540,"y":0.085},{"k":"1.5 W/cm²","x":560,"y":0.15},{"k":"1.5 W/cm²","x":575,"y":0.221},{"k":"1.5 W/cm²","x":585,"y":0.282},{"k":"1.5 W/cm²","x":595,"y":0.385},{"k":"1.5 W/cm²","x":602,"y":0.479},{"k":"1.5 W/cm²","x":608,"y":0.535},{"k":"1.5 W/cm²","x":613,"y":0.545},{"k":"1.5 W/cm²","x":620,"y":0.54},{"k":"1.5 W/cm²","x":626,"y":0.548},{"k":"1.5 W/cm²","x":632,"y":0.585},{"k":"1.5 W/cm²","x":640,"y":0.691},{"k":"1.5 W/cm²","x":648,"y":0.799},{"k":"1.5 W/cm²","x":656,"y":0.902},{"k":"1.5 W/cm²","x":663,"y":0.94},{"k":"1.5 W/cm²","x":667,"y":0.926},{"k":"1.5 W/cm²","x":671,"y":0.865},{"k":"1.5 W/cm²","x":675,"y":0.738},{"k":"1.5 W/cm²","x":679,"y":0.555},{"k":"1.5 W/cm²","x":683,"y":0.367},{"k":"1.5 W/cm²","x":687,"y":0.226},{"k":"1.5 W/cm²","x":691,"y":0.141},{"k":"1.5 W/cm²","x":695,"y":0.094},{"k":"1.5 W/cm²","x":700,"y":0.064},{"k":"1.5 W/cm²","x":708,"y":0.038},{"k":"1.5 W/cm²","x":716,"y":0.021},{"k":"1.5 W/cm²","x":730,"y":0.009},{"k":"1.5 W/cm²","x":750,"y":0.005},{"k":"1.5 W/cm²","x":800,"y":0.002},{"k":"1.5 W/cm²","x":900,"y":0},
{"k":"2    W/cm²","x":500,"y":0.03},{"k":"2    W/cm²","x":520,"y":0.037},{"k":"2    W/cm²","x":540,"y":0.058},{"k":"2    W/cm²","x":560,"y":0.1},{"k":"2    W/cm²","x":575,"y":0.148},{"k":"2    W/cm²","x":585,"y":0.19},{"k":"2    W/cm²","x":595,"y":0.26},{"k":"2    W/cm²","x":602,"y":0.325},{"k":"2    W/cm²","x":608,"y":0.37},{"k":"2    W/cm²","x":613,"y":0.382},{"k":"2    W/cm²","x":620,"y":0.38},{"k":"2    W/cm²","x":626,"y":0.39},{"k":"2    W/cm²","x":632,"y":0.415},{"k":"2    W/cm²","x":640,"y":0.49},{"k":"2    W/cm²","x":648,"y":0.57},{"k":"2    W/cm²","x":656,"y":0.643},{"k":"2    W/cm²","x":663,"y":0.67},{"k":"2    W/cm²","x":667,"y":0.66},{"k":"2    W/cm²","x":671,"y":0.616},{"k":"2    W/cm²","x":675,"y":0.526},{"k":"2    W/cm²","x":679,"y":0.395},{"k":"2    W/cm²","x":683,"y":0.261},{"k":"2    W/cm²","x":687,"y":0.161},{"k":"2    W/cm²","x":691,"y":0.1},{"k":"2    W/cm²","x":695,"y":0.067},{"k":"2    W/cm²","x":700,"y":0.046},{"k":"2    W/cm²","x":708,"y":0.027},{"k":"2    W/cm²","x":716,"y":0.015},{"k":"2    W/cm²","x":730,"y":0.007},{"k":"2    W/cm²","x":750,"y":0.003},{"k":"2    W/cm²","x":800,"y":0.001},{"k":"2    W/cm²","x":900,"y":0}
],
"H": [
{"k":"r","x":3310,"y":81.2},{"k":"r","x":3312,"y":80.8},{"k":"r","x":3314,"y":81.1},{"k":"r","x":3316,"y":80.9},{"k":"r","x":3318,"y":81.2},{"k":"r","x":3320,"y":81.0},{"k":"r","x":3322,"y":81.3},{"k":"r","x":3324,"y":81.8},{"k":"r","x":3325,"y":83.4},{"k":"r","x":3326.5,"y":87.9},{"k":"r","x":3327.6,"y":81.0},{"k":"r","x":3328.7,"y":74.7},{"k":"r","x":3330,"y":78.8},{"k":"r","x":3332,"y":80.0},{"k":"r","x":3334,"y":80.6},{"k":"r","x":3336,"y":80.9},{"k":"r","x":3338,"y":82.3},{"k":"r","x":3339.8,"y":86.0},{"k":"r","x":3341.1,"y":94.8},{"k":"r","x":3342.2,"y":81.5},{"k":"r","x":3343.3,"y":68.3},{"k":"r","x":3345,"y":76.6},{"k":"r","x":3347,"y":79.1},{"k":"r","x":3349,"y":80.4},{"k":"r","x":3351,"y":80.9},{"k":"r","x":3353,"y":82.3},{"k":"r","x":3354.8,"y":85.6},{"k":"r","x":3356.1,"y":94.2},{"k":"r","x":3357.2,"y":81.2},{"k":"r","x":3358.3,"y":68.3},{"k":"r","x":3360,"y":76.6},{"k":"r","x":3362,"y":79.1},{"k":"r","x":3364,"y":80.5},{"k":"r","x":3366,"y":81.1},{"k":"r","x":3368,"y":81.7},{"k":"r","x":3369.7,"y":83.4},{"k":"r","x":3371,"y":87.9},{"k":"r","x":3372.1,"y":81.0},{"k":"r","x":3373.2,"y":74.7},{"k":"r","x":3375,"y":78.8},{"k":"r","x":3377,"y":80.0},{"k":"r","x":3379,"y":80.7},{"k":"r","x":3381,"y":81.0},{"k":"r","x":3383,"y":80.8},{"k":"r","x":3385,"y":81.2},{"k":"r","x":3387,"y":80.9},{"k":"r","x":3389,"y":81.1},{"k":"r","x":3390,"y":81.0},
{"k":"y","x":3310,"y":61.2},{"k":"y","x":3312,"y":60.8},{"k":"y","x":3314,"y":61.1},{"k":"y","x":3316,"y":60.9},{"k":"y","x":3318,"y":61.2},{"k":"y","x":3320,"y":60.9},{"k":"y","x":3322,"y":61.1},{"k":"y","x":3324,"y":61.3},{"k":"y","x":3325,"y":62.1},{"k":"y","x":3326.5,"y":64.2},{"k":"y","x":3327.6,"y":61.0},{"k":"y","x":3328.7,"y":58.9},{"k":"y","x":3330,"y":60.3},{"k":"y","x":3332,"y":60.7},{"k":"y","x":3334,"y":61.1},{"k":"y","x":3336,"y":60.9},{"k":"y","x":3338,"y":61.5},{"k":"y","x":3339.8,"y":62.7},{"k":"y","x":3341.1,"y":65.8},{"k":"y","x":3342.2,"y":61.2},{"k":"y","x":3343.3,"y":55.7},{"k":"y","x":3345,"y":59.1},{"k":"y","x":3347,"y":60.2},{"k":"y","x":3349,"y":60.9},{"k":"y","x":3351,"y":61.2},{"k":"y","x":3353,"y":61.6},{"k":"y","x":3354.8,"y":62.9},{"k":"y","x":3356.1,"y":66.3},{"k":"y","x":3357.2,"y":61.0},{"k":"y","x":3358.3,"y":55.2},{"k":"y","x":3360,"y":59.0},{"k":"y","x":3362,"y":60.1},{"k":"y","x":3364,"y":61.0},{"k":"y","x":3366,"y":60.9},{"k":"y","x":3368,"y":61.3},{"k":"y","x":3369.7,"y":62.0},{"k":"y","x":3371,"y":63.6},{"k":"y","x":3372.1,"y":61.0},{"k":"y","x":3373.2,"y":57.8},{"k":"y","x":3375,"y":59.9},{"k":"y","x":3377,"y":60.5},{"k":"y","x":3379,"y":61.1},{"k":"y","x":3381,"y":60.8},{"k":"y","x":3383,"y":61.2},{"k":"y","x":3385,"y":60.9},{"k":"y","x":3387,"y":61.1},{"k":"y","x":3389,"y":60.8},{"k":"y","x":3390,"y":61.0},
{"k":"g","x":3310,"y":43.2},{"k":"g","x":3312,"y":42.9},{"k":"g","x":3314,"y":43.1},{"k":"g","x":3316,"y":42.8},{"k":"g","x":3318,"y":43.2},{"k":"g","x":3320,"y":43.0},{"k":"g","x":3322,"y":42.9},{"k":"g","x":3324,"y":43.3},{"k":"g","x":3325,"y":43.5},{"k":"g","x":3326.5,"y":44.1},{"k":"g","x":3327.6,"y":43.0},{"k":"g","x":3328.7,"y":42.0},{"k":"g","x":3330,"y":42.6},{"k":"g","x":3332,"y":42.9},{"k":"g","x":3334,"y":43.2},{"k":"g","x":3336,"y":42.9},{"k":"g","x":3338,"y":43.3},{"k":"g","x":3339.8,"y":43.8},{"k":"g","x":3341.1,"y":45.1},{"k":"g","x":3342.2,"y":43.1},{"k":"g","x":3343.3,"y":41.4},{"k":"g","x":3345,"y":42.4},{"k":"g","x":3347,"y":42.8},{"k":"g","x":3349,"y":43.1},{"k":"g","x":3351,"y":42.9},{"k":"g","x":3353,"y":43.3},{"k":"g","x":3354.8,"y":43.8},{"k":"g","x":3356.1,"y":45.1},{"k":"g","x":3357.2,"y":43.0},{"k":"g","x":3358.3,"y":41.4},{"k":"g","x":3360,"y":42.4},{"k":"g","x":3362,"y":42.9},{"k":"g","x":3364,"y":43.1},{"k":"g","x":3366,"y":42.9},{"k":"g","x":3368,"y":43.2},{"k":"g","x":3369.7,"y":43.5},{"k":"g","x":3371,"y":44.1},{"k":"g","x":3372.1,"y":43.0},{"k":"g","x":3373.2,"y":42.0},{"k":"g","x":3375,"y":42.6},{"k":"g","x":3377,"y":43.0},{"k":"g","x":3379,"y":43.2},{"k":"g","x":3381,"y":42.9},{"k":"g","x":3383,"y":43.1},{"k":"g","x":3385,"y":42.8},{"k":"g","x":3387,"y":43.2},{"k":"g","x":3389,"y":42.9},{"k":"g","x":3390,"y":43.0},
{"k":"b","x":3310,"y":26.1},{"k":"b","x":3312,"y":25.9},{"k":"b","x":3314,"y":26.1},{"k":"b","x":3316,"y":25.9},{"k":"b","x":3318,"y":26.2},{"k":"b","x":3320,"y":26.0},{"k":"b","x":3322,"y":25.9},{"k":"b","x":3324,"y":26.1},{"k":"b","x":3325,"y":26.2},{"k":"b","x":3326.5,"y":26.5},{"k":"b","x":3327.6,"y":26.0},{"k":"b","x":3328.7,"y":25.6},{"k":"b","x":3330,"y":25.8},{"k":"b","x":3332,"y":26.0},{"k":"b","x":3334,"y":26.1},{"k":"b","x":3336,"y":25.9},{"k":"b","x":3338,"y":26.2},{"k":"b","x":3339.8,"y":26.3},{"k":"b","x":3341.1,"y":26.6},{"k":"b","x":3342.2,"y":26.0},{"k":"b","x":3343.3,"y":25.5},{"k":"b","x":3345,"y":25.8},{"k":"b","x":3347,"y":26.0},{"k":"b","x":3349,"y":26.1},{"k":"b","x":3351,"y":25.9},{"k":"b","x":3353,"y":26.1},{"k":"b","x":3354.8,"y":26.3},{"k":"b","x":3356.1,"y":26.6},{"k":"b","x":3357.2,"y":26.0},{"k":"b","x":3358.3,"y":25.5},{"k":"b","x":3360,"y":25.8},{"k":"b","x":3362,"y":26.0},{"k":"b","x":3364,"y":26.1},{"k":"b","x":3366,"y":25.9},{"k":"b","x":3368,"y":26.1},{"k":"b","x":3369.7,"y":26.2},{"k":"b","x":3371,"y":26.5},{"k":"b","x":3372.1,"y":26.0},{"k":"b","x":3373.2,"y":25.6},{"k":"b","x":3375,"y":25.8},{"k":"b","x":3377,"y":26.0},{"k":"b","x":3379,"y":26.1},{"k":"b","x":3381,"y":25.9},{"k":"b","x":3383,"y":26.1},{"k":"b","x":3385,"y":25.9},{"k":"b","x":3387,"y":26.1},{"k":"b","x":3389,"y":26.0},{"k":"b","x":3390,"y":26.0},
{"k":"k","x":3310,"y":10.3},{"k":"k","x":3312,"y":9.5},{"k":"k","x":3314,"y":10.6},{"k":"k","x":3316,"y":9.6},{"k":"k","x":3318,"y":10.4},{"k":"k","x":3320,"y":9.4},{"k":"k","x":3322,"y":10.5},{"k":"k","x":3324,"y":9.7},{"k":"k","x":3325,"y":10.6},{"k":"k","x":3326.5,"y":9.5},{"k":"k","x":3327.6,"y":10.2},{"k":"k","x":3328.7,"y":9.6},{"k":"k","x":3330,"y":10.5},{"k":"k","x":3332,"y":9.4},{"k":"k","x":3334,"y":10.4},{"k":"k","x":3336,"y":9.8},{"k":"k","x":3338,"y":10.6},{"k":"k","x":3339.8,"y":9.5},{"k":"k","x":3341.1,"y":10.3},{"k":"k","x":3342.2,"y":9.6},{"k":"k","x":3343.3,"y":10.5},{"k":"k","x":3345,"y":9.4},{"k":"k","x":3347,"y":10.4},{"k":"k","x":3349,"y":9.7},{"k":"k","x":3351,"y":10.6},{"k":"k","x":3353,"y":9.5},{"k":"k","x":3354.8,"y":10.3},{"k":"k","x":3356.1,"y":9.6},{"k":"k","x":3357.2,"y":10.5},{"k":"k","x":3358.3,"y":9.5},{"k":"k","x":3360,"y":10.4},{"k":"k","x":3362,"y":9.8},{"k":"k","x":3364,"y":10.5},{"k":"k","x":3366,"y":9.4},{"k":"k","x":3368,"y":10.3},{"k":"k","x":3369.7,"y":9.6},{"k":"k","x":3371,"y":10.5},{"k":"k","x":3372.1,"y":9.5},{"k":"k","x":3373.2,"y":10.4},{"k":"k","x":3375,"y":9.7},{"k":"k","x":3377,"y":10.6},{"k":"k","x":3379,"y":9.5},{"k":"k","x":3381,"y":10.3},{"k":"k","x":3383,"y":9.6},{"k":"k","x":3385,"y":10.5},{"k":"k","x":3387,"y":9.4},{"k":"k","x":3389,"y":10.4},{"k":"k","x":3390,"y":9.8}
],
"Hlab": [
{"lab":"Cu₂O@Au+H₂O₂+NIR","x":3309.8,"y":94},{"lab":"Cu₂O@Au+H₂O₂","x":3310.8,"y":70},{"lab":"H₂O₂+NIR","x":3310.8,"y":50},{"lab":"NIR","x":3310.8,"y":34},{"lab":"Control","x":3310.5,"y":17.5}
],
"I": [
{"k":"0 min","x":300,"y":0.16},{"k":"0 min","x":310,"y":0.19},{"k":"0 min","x":320,"y":0.207},{"k":"0 min","x":330,"y":0.212},{"k":"0 min","x":340,"y":0.217},{"k":"0 min","x":350,"y":0.224},{"k":"0 min","x":360,"y":0.231},{"k":"0 min","x":370,"y":0.241},{"k":"0 min","x":380,"y":0.258},{"k":"0 min","x":390,"y":0.282},{"k":"0 min","x":400,"y":0.302},{"k":"0 min","x":405,"y":0.306},{"k":"0 min","x":410,"y":0.304},{"k":"0 min","x":420,"y":0.29},{"k":"0 min","x":430,"y":0.258},{"k":"0 min","x":440,"y":0.215},{"k":"0 min","x":450,"y":0.166},{"k":"0 min","x":460,"y":0.12},{"k":"0 min","x":470,"y":0.08},{"k":"0 min","x":480,"y":0.051},{"k":"0 min","x":490,"y":0.031},{"k":"0 min","x":500,"y":0.019},{"k":"0 min","x":520,"y":0.0075},{"k":"0 min","x":540,"y":0.003},{"k":"0 min","x":560,"y":0.0015},{"k":"0 min","x":600,"y":0},
{"k":"10 min","x":300,"y":0.205},{"k":"10 min","x":310,"y":0.243},{"k":"10 min","x":320,"y":0.267},{"k":"10 min","x":328,"y":0.274},{"k":"10 min","x":335,"y":0.269},{"k":"10 min","x":340,"y":0.26},{"k":"10 min","x":350,"y":0.234},{"k":"10 min","x":360,"y":0.21},{"k":"10 min","x":370,"y":0.19},{"k":"10 min","x":380,"y":0.178},{"k":"10 min","x":390,"y":0.172},{"k":"10 min","x":400,"y":0.168},{"k":"10 min","x":410,"y":0.165},{"k":"10 min","x":420,"y":0.155},{"k":"10 min","x":430,"y":0.135},{"k":"10 min","x":440,"y":0.107},{"k":"10 min","x":450,"y":0.08},{"k":"10 min","x":460,"y":0.057},{"k":"10 min","x":470,"y":0.039},{"k":"10 min","x":480,"y":0.026},{"k":"10 min","x":490,"y":0.017},{"k":"10 min","x":500,"y":0.011},{"k":"10 min","x":520,"y":0.005},{"k":"10 min","x":540,"y":0.002},{"k":"10 min","x":600,"y":0},
{"k":"15 min","x":300,"y":0.205},{"k":"15 min","x":310,"y":0.243},{"k":"15 min","x":320,"y":0.267},{"k":"15 min","x":328,"y":0.275},{"k":"15 min","x":335,"y":0.27},{"k":"15 min","x":340,"y":0.262},{"k":"15 min","x":350,"y":0.235},{"k":"15 min","x":360,"y":0.2},{"k":"15 min","x":370,"y":0.165},{"k":"15 min","x":380,"y":0.145},{"k":"15 min","x":390,"y":0.133},{"k":"15 min","x":400,"y":0.127},{"k":"15 min","x":410,"y":0.123},{"k":"15 min","x":420,"y":0.115},{"k":"15 min","x":430,"y":0.1},{"k":"15 min","x":440,"y":0.08},{"k":"15 min","x":450,"y":0.061},{"k":"15 min","x":460,"y":0.045},{"k":"15 min","x":470,"y":0.031},{"k":"15 min","x":480,"y":0.021},{"k":"15 min","x":490,"y":0.014},{"k":"15 min","x":500,"y":0.009},{"k":"15 min","x":520,"y":0.004},{"k":"15 min","x":540,"y":0.002},{"k":"15 min","x":600,"y":0},
{"k":"20 min","x":300,"y":0.2},{"k":"20 min","x":310,"y":0.241},{"k":"20 min","x":320,"y":0.265},{"k":"20 min","x":328,"y":0.273},{"k":"20 min","x":335,"y":0.268},{"k":"20 min","x":340,"y":0.26},{"k":"20 min","x":350,"y":0.232},{"k":"20 min","x":360,"y":0.195},{"k":"20 min","x":370,"y":0.158},{"k":"20 min","x":380,"y":0.135},{"k":"20 min","x":390,"y":0.122},{"k":"20 min","x":400,"y":0.116},{"k":"20 min","x":410,"y":0.113},{"k":"20 min","x":420,"y":0.106},{"k":"20 min","x":430,"y":0.093},{"k":"20 min","x":440,"y":0.075},{"k":"20 min","x":450,"y":0.057},{"k":"20 min","x":460,"y":0.042},{"k":"20 min","x":470,"y":0.029},{"k":"20 min","x":480,"y":0.019},{"k":"20 min","x":490,"y":0.012},{"k":"20 min","x":500,"y":0.008},{"k":"20 min","x":520,"y":0.003},{"k":"20 min","x":540,"y":0.001},{"k":"20 min","x":600,"y":0},
{"k":"25 min","x":300,"y":0.21},{"k":"25 min","x":310,"y":0.258},{"k":"25 min","x":320,"y":0.287},{"k":"25 min","x":328,"y":0.298},{"k":"25 min","x":335,"y":0.292},{"k":"25 min","x":340,"y":0.282},{"k":"25 min","x":350,"y":0.245},{"k":"25 min","x":360,"y":0.19},{"k":"25 min","x":370,"y":0.135},{"k":"25 min","x":380,"y":0.1},{"k":"25 min","x":390,"y":0.087},{"k":"25 min","x":400,"y":0.082},{"k":"25 min","x":410,"y":0.08},{"k":"25 min","x":420,"y":0.075},{"k":"25 min","x":430,"y":0.066},{"k":"25 min","x":440,"y":0.054},{"k":"25 min","x":450,"y":0.041},{"k":"25 min","x":460,"y":0.03},{"k":"25 min","x":470,"y":0.02},{"k":"25 min","x":480,"y":0.013},{"k":"25 min","x":490,"y":0.008},{"k":"25 min","x":500,"y":0.005},{"k":"25 min","x":520,"y":0.002},{"k":"25 min","x":540,"y":0.001},{"k":"25 min","x":600,"y":0},
{"k":"30 min","x":300,"y":0.21},{"k":"30 min","x":310,"y":0.26},{"k":"30 min","x":320,"y":0.291},{"k":"30 min","x":328,"y":0.302},{"k":"30 min","x":335,"y":0.296},{"k":"30 min","x":340,"y":0.285},{"k":"30 min","x":350,"y":0.245},{"k":"30 min","x":360,"y":0.185},{"k":"30 min","x":370,"y":0.12},{"k":"30 min","x":380,"y":0.08},{"k":"30 min","x":390,"y":0.065},{"k":"30 min","x":400,"y":0.06},{"k":"30 min","x":410,"y":0.058},{"k":"30 min","x":420,"y":0.055},{"k":"30 min","x":430,"y":0.048},{"k":"30 min","x":440,"y":0.039},{"k":"30 min","x":450,"y":0.029},{"k":"30 min","x":460,"y":0.021},{"k":"30 min","x":470,"y":0.014},{"k":"30 min","x":480,"y":0.009},{"k":"30 min","x":490,"y":0.005},{"k":"30 min","x":500,"y":0.003},{"k":"30 min","x":520,"y":0.001},{"k":"30 min","x":540,"y":0},{"k":"30 min","x":600,"y":0},
{"k":"35 min","x":300,"y":0.215},{"k":"35 min","x":310,"y":0.264},{"k":"35 min","x":320,"y":0.295},{"k":"35 min","x":328,"y":0.307},{"k":"35 min","x":335,"y":0.301},{"k":"35 min","x":340,"y":0.289},{"k":"35 min","x":350,"y":0.245},{"k":"35 min","x":360,"y":0.175},{"k":"35 min","x":370,"y":0.105},{"k":"35 min","x":380,"y":0.06},{"k":"35 min","x":390,"y":0.042},{"k":"35 min","x":400,"y":0.036},{"k":"35 min","x":410,"y":0.035},{"k":"35 min","x":420,"y":0.033},{"k":"35 min","x":430,"y":0.029},{"k":"35 min","x":440,"y":0.023},{"k":"35 min","x":450,"y":0.017},{"k":"35 min","x":460,"y":0.012},{"k":"35 min","x":470,"y":0.008},{"k":"35 min","x":480,"y":0.005},{"k":"35 min","x":490,"y":0.003},{"k":"35 min","x":500,"y":0.002},{"k":"35 min","x":520,"y":0.001},{"k":"35 min","x":540,"y":0},{"k":"35 min","x":600,"y":0}
],
"Iarrow": [{"x":413,"y":0.318,"y2":0.013}]
},
"concat": [
{
 "width": 268, "height": 210,
 "title": {"text": "A", "dx": -53, "dy": 3},
 "data": {"name": "A"},
 "resolve": {"axis": {"x": "independent", "y": "independent"}},
 "layer": [
  {
   "mark": {"type": "line", "interpolate": "monotone", "clip": true},
   "encoding": {
    "x": {"field": "x", "type": "quantitative", "scale": {"domain": [384.5, 480], "nice": false, "zero": false}, "axis": {"title": "Wavelength(nm)", "values": [400, 420, 440, 460, 480], "labelFontSize": 14}},
    "y": {"field": "y", "type": "quantitative", "scale": {"domain": [-0.05, 0.5], "nice": false, "zero": false}, "axis": {"title": "Absorbance (a.u.)", "values": [0, 0.1, 0.2, 0.3, 0.4, 0.5], "format": ".1f", "titleFontSize": 17, "labelFontSize": 14}},
    "color": {"field": "k", "type": "nominal", "scale": {"domain": ["Cu₂O+Glu", "Cu₂O@Au", "Cu₂O@Au+Glu"], "range": ["#333333", "#5b6cc4", "#d9605f"]}, "legend": {"title": null, "legendX": 130, "legendY": 2, "labelFontSize": 14, "symbolSize": 1100, "clipHeight": 21}}
   }
  },
  {
   "mark": {"type": "point", "opacity": 0},
   "encoding": {
    "x": {"field": "x", "type": "quantitative", "axis": {"orient": "bottom", "title": null, "labels": false, "tickSize": 2.5, "values": [390, 410, 430, 450, 470]}},
    "y": {"field": "y", "type": "quantitative", "axis": {"orient": "left", "title": null, "labels": false, "tickSize": 2.5, "values": [0.05, 0.15, 0.25, 0.35, 0.45]}}
   }
  }
 ]
},
{
 "width": 276, "height": 202,
 "title": {"text": "B", "dx": -52, "dy": -4},
 "data": {"name": "B"},
 "resolve": {"axis": {"x": "independent", "y": "independent"}},
 "encoding": {
  "color": {"field": "k", "type": "nominal", "scale": {"domain": ["Glu", "Cu₂O+Glu", "Cu₂O@Au+Glu"], "range": ["#5a6fd0", "#2db5b8", "#d65a5a"]}, "legend": {"title": null, "legendX": 11, "legendY": 136, "labelFontSize": 12, "symbolSize": 850, "clipHeight": 16.5}}
 },
 "layer": [
  {"mark": {"type": "line"}, "encoding": {
    "x": {"field": "t", "type": "quantitative", "scale": {"domain": [-0.5, 10.5], "nice": false, "zero": false}, "axis": {"title": "Time (h)", "values": [0, 2, 4, 6, 8, 10]}},
    "y": {"field": "ph", "type": "quantitative", "title": "pH", "scale": {"domain": [4, 8.5], "nice": false, "zero": false}, "axis": {"values": [4, 5, 6, 7, 8]}}}},
  {"mark": {"type": "errorbar", "ticks": true, "thickness": 1.2}, "encoding": {
    "x": {"field": "t", "type": "quantitative", "axis": null},
    "y": {"field": "lo", "type": "quantitative", "axis": null}, "y2": {"field": "hi"}}},
  {"mark": {"type": "point", "opacity": 0}, "encoding": {
    "color": {"value": "#000"},
    "x": {"field": "t", "type": "quantitative", "axis": {"orient": "bottom", "title": null, "labels": false, "tickSize": 2.5, "values": [1, 3, 5, 7, 9]}},
    "y": {"field": "ph", "type": "quantitative", "axis": {"orient": "left", "title": null, "labels": false, "tickSize": 2.5, "values": [4.5, 5.5, 6.5, 7.5]}}}}
 ]
},
{
 "width": 271, "height": 202,
 "title": {"text": "C", "dx": -60, "dy": 1},
 "data": {"name": "C"},
 "resolve": {"axis": {"x": "independent", "y": "independent"}},
 "layer": [
  {
   "mark": {"type": "line", "interpolate": "monotone", "clip": true},
   "encoding": {
    "x": {"field": "x", "type": "quantitative", "scale": {"domain": [384.5, 480], "nice": false, "zero": false}, "axis": {"title": "Wavelength(nm)", "values": [400, 420, 440, 460, 480]}},
    "y": {"field": "y", "type": "quantitative", "scale": {"domain": [-0.1, 0.8], "nice": false, "zero": false}, "axis": {"title": "Absorbance (a.u.)", "values": [0, 0.2, 0.4, 0.6, 0.8], "format": ".1f"}},
    "color": {"field": "k", "type": "nominal", "scale": {"domain": ["H₂O₂", "Cu₂O", "Cu₂O+H₂O₂", "Cu₂O@Au", "Cu₂O@Au+H₂O₂"], "range": ["#333333", "#3a4aa6", "#8c4cc4", "#a3aae4", "#e07280"]}, "legend": {"title": null, "legendX": 150, "legendY": 2, "labelFontSize": 12, "symbolSize": 650, "clipHeight": 18}}
   }
  },
  {
   "mark": {"type": "point", "opacity": 0},
   "encoding": {
    "x": {"field": "x", "type": "quantitative", "axis": {"orient": "bottom", "title": null, "labels": false, "tickSize": 2.5, "values": [390, 410, 430, 450, 470]}},
    "y": {"field": "y", "type": "quantitative", "axis": {"orient": "left", "title": null, "labels": false, "tickSize": 2.5, "values": [0.1, 0.3, 0.5, 0.7]}}
   }
  }
 ]
},
{
 "width": 268, "height": 204,
 "title": {"text": "D", "dx": -47, "dy": -4},
 "data": {"name": "D"},
 "resolve": {"axis": {"x": "independent", "y": "independent"}},
 "layer": [
  {
   "mark": {"type": "line", "interpolate": "monotone", "clip": true},
   "encoding": {
    "x": {"field": "x", "type": "quantitative", "scale": {"domain": [384.5, 480], "nice": false, "zero": false}, "axis": {"title": "Wavelength(nm)", "values": [400, 420, 440, 460, 480]}},
    "y": {"field": "y", "type": "quantitative", "scale": {"domain": [-0.25, 2.27], "nice": false, "zero": false}, "axis": {"title": "Absorbance (a.u.)", "values": [0, 0.5, 1, 1.5, 2], "format": ".1f"}},
    "color": {"field": "k", "type": "nominal", "scale": {"domain": ["ABTS", "Cu₂O+Glu+ABTS", "Cu₂O@Au+Glu+ABTS"], "range": ["#333333", "#5a6fd0", "#e06464"]}, "legend": {"title": null, "legendX": 116, "legendY": 5, "labelFontSize": 12.5, "symbolSize": 700, "clipHeight": 16.5}}
   }
  },
  {
   "mark": {"type": "point", "opacity": 0},
   "encoding": {
    "x": {"field": "x", "type": "quantitative", "axis": {"orient": "bottom", "title": null, "labels": false, "tickSize": 2.5, "values": [390, 410, 430, 450, 470]}},
    "y": {"field": "y", "type": "quantitative", "axis": {"orient": "left", "title": null, "labels": false, "tickSize": 2.5, "values": [0.25, 0.75, 1.25, 1.75]}}
   }
  }
 ]
},
{
 "width": 276, "height": 204,
 "title": {"text": "E", "dx": -45, "dy": -4},
 "data": {"name": "E"},
 "resolve": {"axis": {"x": "independent", "y": "independent"}},
 "layer": [
  {
   "mark": {"type": "line", "interpolate": "monotone", "clip": true},
   "encoding": {
    "x": {"field": "x", "type": "quantitative", "scale": {"domain": [500, 900], "nice": false, "zero": false}, "axis": {"title": "Wavelength(nm)", "values": [500, 600, 700, 800, 900]}},
    "y": {"field": "y", "type": "quantitative", "scale": {"domain": [0, 2.25], "nice": false}, "axis": {"title": "Absorbance (a.u.)", "values": [0, 0.5, 1, 1.5, 2], "format": ".1f"}},
    "color": {"field": "k", "type": "nominal", "scale": {"domain": ["1 mM", "2 mM", "3 mM", "4 mM", "5 mM"], "range": ["#d9534f", "#e6e25a", "#9ccb52", "#35a8c8", "#2b3fa0"]}, "legend": {"title": null, "legendX": 201, "legendY": 7.5, "labelFontSize": 12, "symbolSize": 850, "clipHeight": 15}}
   }
  },
  {
   "mark": {"type": "point", "opacity": 0},
   "encoding": {
    "x": {"field": "x", "type": "quantitative", "axis": {"orient": "bottom", "title": null, "labels": false, "tickSize": 2.5, "values": [550, 650, 750, 850]}},
    "y": {"field": "y", "type": "quantitative", "axis": {"orient": "left", "title": null, "labels": false, "tickSize": 2.5, "values": [0.25, 0.75, 1.25, 1.75]}}
   }
  }
 ]
},
{
 "width": 271, "height": 204,
 "title": {"text": "F", "dx": -44, "dy": -1},
 "data": {"name": "F"},
 "resolve": {"axis": {"x": "independent", "y": "independent"}},
 "layer": [
  {
   "mark": {"type": "line", "interpolate": "monotone", "clip": true},
   "encoding": {
    "x": {"field": "x", "type": "quantitative", "scale": {"domain": [500, 900], "nice": false, "zero": false}, "axis": {"title": "Wavelength(nm)", "values": [500, 600, 700, 800, 900]}},
    "y": {"field": "y", "type": "quantitative", "scale": {"domain": [0, 1.2], "nice": false}, "axis": {"title": "Absorbance (a.u.)", "values": [0, 0.2, 0.4, 0.6, 0.8, 1.0, 1.2], "format": ".1f"}},
    "color": {"field": "k", "type": "nominal", "scale": {"domain": ["MB+H₂O₂", "Cu₂O@Au+H₂O₂+MB (pH=7.4)", "Cu₂O@Au+H₂O₂+MB (pH=6.5)", "Cu₂O@Au+H₂O₂+MB (pH=5)"], "range": ["#d95b5b", "#e6e055", "#3cb88f", "#2fa5c5"]}, "legend": {"title": null, "legendX": 131, "legendY": 1, "labelFontSize": 8.5, "symbolSize": 420, "labelLimit": 300, "clipHeight": 16.5}}
   }
  },
  {
   "mark": {"type": "point", "opacity": 0},
   "encoding": {
    "x": {"field": "x", "type": "quantitative", "axis": {"orient": "bottom", "title": null, "labels": false, "tickSize": 2.5, "values": [550, 650, 750, 850]}},
    "y": {"field": "y", "type": "quantitative", "axis": {"orient": "left", "title": null, "labels": false, "tickSize": 2.5, "values": [0.1, 0.3, 0.5, 0.7, 0.9, 1.1]}}
   }
  }
 ]
},
{
 "width": 268, "height": 202,
 "title": {"text": "G", "dx": -53, "dy": 10},
 "data": {"name": "G"},
 "resolve": {"axis": {"x": "independent", "y": "independent"}},
 "layer": [
  {
   "mark": {"type": "line", "interpolate": "monotone", "clip": true},
   "encoding": {
    "x": {"field": "x", "type": "quantitative", "scale": {"domain": [500, 900], "nice": false, "zero": false}, "axis": {"title": "Wavelength(nm)", "values": [500, 600, 700, 800, 900]}},
    "y": {"field": "y", "type": "quantitative", "scale": {"domain": [0, 1.7], "nice": false}, "axis": {"title": "Absorbance (a.u.)", "values": [0, 0.4, 0.8, 1.2, 1.6], "format": ".1f"}},
    "color": {"field": "k", "type": "nominal", "scale": {"domain": ["Control", "0.5 W/cm²", "1    W/cm²", "1.5 W/cm²", "2    W/cm²"], "range": ["#d9646e", "#ece684", "#a8d46a", "#4fa8d6", "#34479c"]}, "legend": {"title": null, "legendX": 176, "legendY": 3.5, "labelFontSize": 13, "symbolSize": 650, "clipHeight": 19, "labelExpr": "replace(datum.label, '    ', '\u00a0\u00a0\u00a0\u00a0')"}}
   }
  },
  {
   "mark": {"type": "point", "opacity": 0},
   "encoding": {
    "x": {"field": "x", "type": "quantitative", "axis": {"orient": "bottom", "title": null, "labels": false, "tickSize": 2.5, "values": [550, 650, 750, 850]}},
    "y": {"field": "y", "type": "quantitative", "axis": {"orient": "left", "title": null, "labels": false, "tickSize": 2.5, "values": [0.2, 0.6, 1.0, 1.4]}}
   }
  }
 ]
},
{
 "width": 279, "height": 193,
 "title": {"text": "H", "dx": -40, "dy": 7},
 "resolve": {"axis": {"x": "independent", "y": "independent"}},
 "layer": [
  {
   "data": {"name": "H"},
   "mark": {"type": "line", "strokeWidth": 1.3, "interpolate": "monotone"},
   "encoding": {
    "x": {"field": "x", "type": "quantitative", "scale": {"domain": [3310, 3390], "nice": false, "zero": false}, "axis": {"title": "Magnetic Field (G)", "values": [3320, 3340, 3360, 3380], "format": "d"}},
    "y": {"field": "y", "type": "quantitative", "scale": {"domain": [0, 100], "nice": false}, "axis": {"title": "Intensity (a.u.)", "labels": false, "ticks": false, "titlePadding": 3}},
    "color": {"field": "k", "type": "nominal", "scale": {"domain": ["r", "y", "g", "b", "k"], "range": ["#d45a5a", "#dfd84a", "#35b890", "#35a8d0", "#111111"]}, "legend": null}
   }
  },
  {
   "data": {"name": "Hlab"},
   "mark": {"type": "text", "align": "left", "baseline": "middle", "fontWeight": "bold", "fontSize": 12.5, "color": "#111"},
   "encoding": {
    "x": {"field": "x", "type": "quantitative", "axis": {"orient": "bottom", "title": null, "labels": false, "tickSize": 2.5, "values": [3330, 3350, 3370]}},
    "y": {"field": "y", "type": "quantitative", "axis": null},
    "text": {"field": "lab"}
   }
  }
 ]
},
{
 "width": 271, "height": 202,
 "title": {"text": "I", "dx": -22, "dy": 10},
 "resolve": {"axis": {"x": "independent", "y": "independent"}},
 "layer": [
  {
   "data": {"name": "I"},
   "mark": {"type": "line", "interpolate": "monotone", "clip": true},
   "encoding": {
    "x": {"field": "x", "type": "quantitative", "scale": {"domain": [300, 600], "nice": false, "zero": false}, "axis": {"title": "Wavelength(nm)", "values": [300, 400, 500, 600]}},
    "y": {"field": "y", "type": "quantitative", "scale": {"domain": [0, 0.35], "nice": false}, "axis": {"title": "Absorbance (a.u.)", "values": [0, 0.1, 0.2, 0.3], "format": ".1f"}},
    "color": {"field": "k", "type": "nominal", "scale": {"domain": ["0 min", "10 min", "15 min", "20 min", "25 min", "30 min", "35 min"], "range": ["#e08a8a", "#d99a60", "#e4dc78", "#c8dc8c", "#44b466", "#4cb6c8", "#34449c"]}, "legend": {"title": null, "legendX": 198, "legendY": 3.5, "labelFontSize": 12, "symbolSize": 850, "clipHeight": 15, "labelExpr": "datum.label == '0 min' ? '\u00a0\u00a00 min' : datum.label"}}
   }
  },
  {
   "data": {"name": "Iarrow"},
   "mark": {"type": "rule", "color": "#111", "strokeWidth": 1.5},
   "encoding": {"x": {"field": "x", "type": "quantitative", "axis": {"orient": "bottom", "title": null, "labels": false, "tickSize": 2.5, "values": [350, 450, 550]}}, "y": {"field": "y", "type": "quantitative", "axis": {"orient": "left", "title": null, "labels": false, "tickSize": 2.5, "values": [0.05, 0.15, 0.25]}}, "y2": {"field": "y2"}}
  },
  {
   "data": {"name": "Iarrow"},
   "mark": {"type": "point", "shape": "triangle-down", "filled": true, "color": "#111", "size": 35, "opacity": 1},
   "encoding": {"x": {"field": "x", "type": "quantitative", "axis": null}, "y": {"field": "y2", "type": "quantitative", "axis": null}}
  }
 ]
}
]
}
